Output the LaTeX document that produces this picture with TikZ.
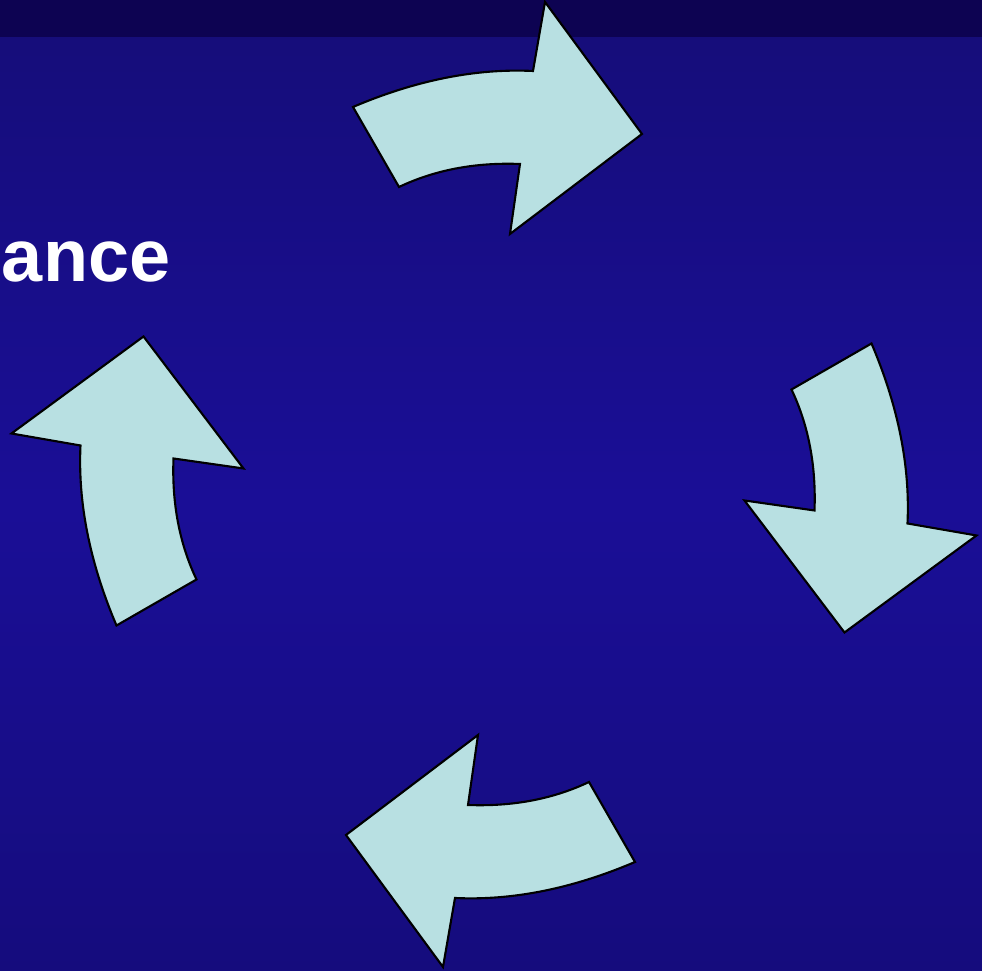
\documentclass[tikz,border=0pt]{standalone}
\usepackage{fontspec}
\setmainfont{Liberation Sans}
\usepackage{tikz}
\usetikzlibrary{calc}
\definecolor{navytop}{RGB}{13,3,82}
\definecolor{paleaqua}{RGB}{184,224,226}
\pgfdeclareverticalshading{navyfade}{100bp}{
  rgb(0bp)=(0.063,0.039,0.39);
  rgb(50bp)=(0.102,0.055,0.59);
  rgb(100bp)=(0.067,0.047,0.37)}
\tikzset{
  arrowshape/.style={fill=paleaqua, draw=black, line width=0.6pt, line join=miter},
  pics/curvedarrow/.style={code={
    %Top arrow, the others are turned copies
    \filldraw[arrowshape] (-141,377.5)
      .. controls (-78.3,404.2) and (-18.3,416.2) .. (39,413.5)
      -- (51,482.5) -- (148,350.5) -- (16,250.5) -- (26,320.5)
      .. controls (-18.7,322.2) and (-59,314.6) .. (-95,297.5) -- cycle;
  }}
}
\begin{document}
\begin{tikzpicture}[x=0.01cm,y=0.01cm]
  \def\w{494}
  \coordinate (sw) at (-\w,-486.5);
  \coordinate (ne) at (488,484.5);
  \coordinate (bandlow) at (-\w,447.5);
  \useasboundingbox (sw) rectangle (ne);
  %Background
  \shade[shading=navyfade] (sw) rectangle (ne |- bandlow);
  \fill[navytop] (bandlow) rectangle (ne);
  %Title fragment
  \node[anchor=base east, inner sep=0pt, text=white, font=\fontsize{21}{25}\selectfont\bfseries] (title) at (-323,202.8) {ance};
  %Arrows
  \pic (up) {curvedarrow};
  \pic[rotate=-90] (right) {curvedarrow};
  \pic[rotate=180] (down) {curvedarrow};
  \pic[rotate=90] (left) {curvedarrow};
\end{tikzpicture}
\end{document}
